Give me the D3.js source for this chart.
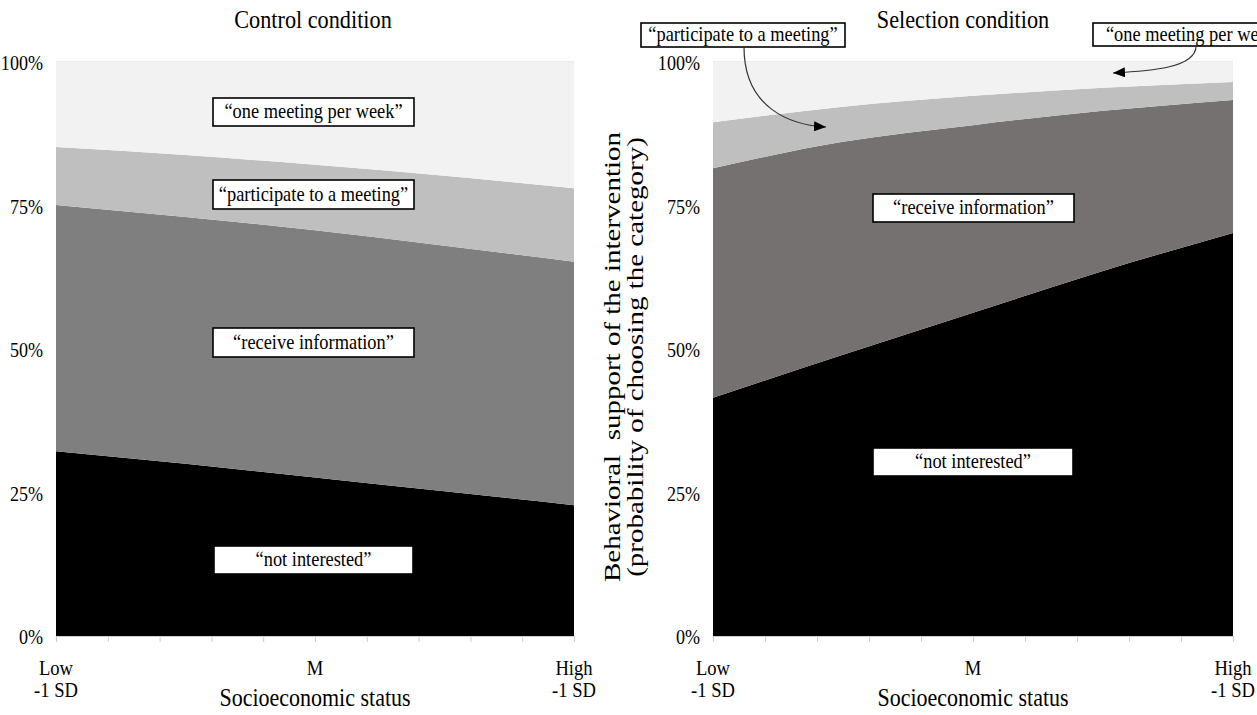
<!DOCTYPE html>
<html>
<head>
<meta charset="utf-8">
<script src="https://cdn.jsdelivr.net/npm/d3@7"></script>
<style>
  html, body { margin: 0; padding: 0; background: #fff; }
  text { font-family: "Liberation Serif", "Times New Roman", serif; fill: #000; }
</style>
</head>
<body>
<svg id="chart" width="1257" height="715"></svg>
<script>
// ---------- data ----------
const sesValues = [-1, -0.5, 0, 0.5, 1];
const categories = ["not interested", "receive information", "participate to a meeting", "one meeting per week"];
const categoryLabels = ["\u201cnot interested\u201d", "\u201creceive information\u201d", "\u201cparticipate to a meeting\u201d", "\u201cone meeting per week\u201d"];
const yTicks = [0, 25, 50, 75, 100];
const xTickLabels = [["Low", "-1 SD"], ["M"], ["High", "-1 SD"]];
const xTickValues = [-1, 0, 1];

// Control condition (probability % per category)
const controlNotInterested = [32.2, 30.0, 27.6, 25.2, 22.8];
const controlReceiveInfo   = [42.9, 43.0, 43.1, 42.8, 42.4];
const controlParticipate   = [10.1, 10.8, 11.4, 12.2, 12.8];
const controlOneMeeting    = [14.8, 16.2, 17.9, 19.8, 22.0];

// Selection condition
const selectionNotInterested = [41.5, 49.0, 56.3, 63.6, 70.2];
const selectionReceiveInfo   = [40.0, 37.1, 32.7, 27.9, 23.2];
const selectionParticipate   = [8.0, 6.1, 5.1, 4.0, 3.1];
const selectionOneMeeting    = [10.5, 7.8, 5.9, 4.5, 3.5];

// ---------- helpers ----------
const svg = d3.select("#chart");
function txt(g, x, y, s, size, anchor, sx) {
  return g.append("text")
    .attr("transform", `translate(${x},${y}) scale(${sx},1)`)
    .attr("text-anchor", anchor)
    .attr("font-family", "Liberation Serif, Times New Roman, serif")
    .style("font-size", size + "px")
    .text(s);
}
function rows(a, b, c, d) {
  return sesValues.map((s, i) => ({ ses: s, [categories[0]]: a[i], [categories[1]]: b[i], [categories[2]]: c[i], [categories[3]]: d[i] }));
}

const defs = svg.append("defs");
defs.append("marker").attr("id", "ah")
  .attr("viewBox", "0 0 12 10").attr("refX", 12).attr("refY", 5)
  .attr("markerWidth", 12).attr("markerHeight", 10)
  .attr("markerUnits", "userSpaceOnUse").attr("orient", "auto")
  .append("path").attr("d", "M0,0 L12,5 L0,10 Z").attr("fill", "#000");

const y = d3.scaleLinear().domain([0, 100]).range([636, 62]);

function panel(cfg) {
  const g = svg.append("g");
  const x = d3.scaleLinear().domain([-1, 1]).range([cfg.x0, cfg.x1]);
  const data = rows(...cfg.series);
  const stacked = d3.stack().keys(categories)(data);
  const area = d3.area()
    .x(d => x(d.data.ses))
    .y0(d => y(d[0]))
    .y1(d => y(d[1]))
    .curve(d3.curveMonotoneX);

  // top gridline
  g.append("line").attr("x1", cfg.x0).attr("x2", cfg.x1).attr("y1", y(100)).attr("y2", y(100))
    .attr("stroke", "#d9d9d9").attr("stroke-width", 1);

  g.selectAll("path.layer").data(stacked).join("path")
    .attr("class", "layer")
    .attr("d", area)
    .attr("fill", (d, i) => cfg.colors[i]);

  // x axis line and ticks
  const axisG = g.append("g").attr("transform", `translate(0,${y(0)})`);
  const ax = d3.axisBottom(x).tickValues(d3.range(11).map(i => -1 + i * 0.2)).tickSize(6).tickFormat("");
  axisG.call(ax);
  axisG.select(".domain").attr("stroke", "#cfcfcf").attr("stroke-width", 1.2);
  axisG.selectAll(".tick line").attr("stroke", "#cfcfcf");

  // y tick labels
  yTicks.forEach(t => txt(g, cfg.x0 - 13, y(t) + 8, t + "%", 21, "end", 0.86));

  // x tick labels
  xTickValues.forEach((v, i) => {
    const lines = xTickLabels[i];
    txt(g, x(v), 675, lines[0], 20, "middle", 0.93);
    if (lines[1]) txt(g, x(v), 697, lines[1], 20, "middle", 0.93);
  });
  txt(g, (cfg.x0 + cfg.x1) / 2, 706, "Socioeconomic status", 25, "middle", 0.88);
  txt(g, cfg.titleX, 28, cfg.title, 25, "middle", 0.89);

  // labels in boxes
  cfg.boxes.forEach(b => {
    g.append("rect").attr("x", b.x).attr("y", b.y).attr("width", b.w).attr("height", b.h)
      .attr("fill", "#fff").attr("stroke", "#000").attr("stroke-width", 1.6);
    txt(g, b.x + b.w / 2, b.y + b.h / 2 + 6, categoryLabels[b.cat], 20, "middle", 0.92);
  });
  return g;
}

panel({
  x0: 56, x1: 574, title: "Control condition", titleX: 313,
  series: [controlNotInterested, controlReceiveInfo, controlParticipate, controlOneMeeting],
  colors: ["#000000", "#7f7f7f", "#bfbfbf", "#f2f2f2"],
  boxes: [
    { cat: 3, x: 213, y: 98, w: 201, h: 28 },
    { cat: 2, x: 213, y: 180, w: 201, h: 29 },
    { cat: 1, x: 213, y: 328, w: 201, h: 29 },
    { cat: 0, x: 214, y: 546, w: 199, h: 28 }
  ]
});

panel({
  x0: 713, x1: 1233, title: "Selection condition", titleX: 963,
  series: [selectionNotInterested, selectionReceiveInfo, selectionParticipate, selectionOneMeeting],
  colors: ["#000000", "#767171", "#bfbfbf", "#f2f2f2"],
  boxes: [
    { cat: 1, x: 873, y: 194, w: 201, h: 28 },
    { cat: 0, x: 873, y: 448, w: 200, h: 28 },
    { cat: 2, x: 641, y: 23, w: 204, h: 24 },
    { cat: 3, x: 1093, y: 23, w: 204, h: 23 }
  ]
});

// annotation arrows (right panel)
svg.append("path").attr("d", "M744,47 C744,108 790,125 826,127")
  .attr("fill", "none").attr("stroke", "#333").attr("stroke-width", 1.2).attr("marker-end", "url(#ah)");
svg.append("path").attr("d", "M1196,46 C1196,68 1150,71 1113,73")
  .attr("fill", "none").attr("stroke", "#333").attr("stroke-width", 1.2).attr("marker-end", "url(#ah)");

// y axis title (right panel)
const yt = svg.append("g").attr("font-family", "Liberation Serif, Times New Roman, serif");
yt.append("text").attr("transform", "translate(620,357) scale(0.78,1) rotate(-90)")
  .attr("text-anchor", "middle").style("font-size", "29px")
  .attr("xml:space", "preserve")
  .text("Behavioral  support of the intervention");
yt.append("text").attr("transform", "translate(643,357) scale(0.78,1) rotate(-90)")
  .attr("text-anchor", "middle").style("font-size", "29px")
  .text("(probability of choosing the category)");
</script>
</body>
</html>
